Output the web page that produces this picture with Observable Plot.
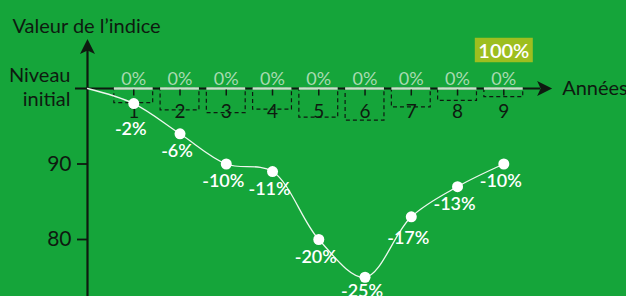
<!DOCTYPE html>
<html>
<head>
<meta charset="utf-8">
<script src="https://cdn.jsdelivr.net/npm/d3@7"></script>
<script src="https://cdn.jsdelivr.net/npm/@observablehq/plot@0.6"></script>
<style>
  html, body { margin: 0; padding: 0; background: #15a53a; }
  #chart { width: 626px; height: 296px; overflow: hidden; }
  #chart svg { overflow: visible; }
</style>
</head>
<body>
<div id="chart"></div>
<script>
// ---- data ----
const years = [1, 2, 3, 4, 5, 6, 7, 8, 9];
const indexChange = [-2, -6, -10, -11, -20, -25, -17, -13, -10]; // % vs initial level
const couponLabels = ["0%", "0%", "0%", "0%", "0%", "0%", "0%", "0%", "0%"];
const boxBottoms = [98.05, 97.1, 96.75, 97.2, 96.15, 95.75, 97.5, 98.35, 98.85];
const yTicks = [80, 90];
const initialLevel = 100;
const initialLabel = "Niveau\ninitial";
const yTitle = "Valeur de l’indice";
const xTitle = "Années";
const redemptionLabel = "100%";
const redemptionYear = 9;

// ---- build table ----
const rows = years.map((year, i) => ({
  year,
  change: indexChange[i],
  value: initialLevel + indexChange[i],
  coupon: couponLabels[i],
  boxBottom: boxBottoms[i],
  label: indexChange[i] + "%"
}));
const path = [{year: 0, value: initialLevel}, ...rows];

// ---- styling constants ----
const bg = "#15a53a";
const dark = "#0e1a10";
const light = "#c4e6c8";
const lightText = "#a8dbb1";
const half = 0.42;
const xAxisStart = -0.26, xAxisEnd = 10.045;
const yAxisBottom = 70, yAxisTop = 106.57;
const font = "Lato, sans-serif";
const textWeight = 400;

const arrowHead = {draw(ctx) { ctx.moveTo(0, 0); ctx.lineTo(7.5, 15); ctx.lineTo(0, 11.5); ctx.lineTo(-7.5, 15); ctx.closePath(); }};
const tickSym = {draw(ctx) { ctx.moveTo(0, 0); ctx.lineTo(0, 6); }};
const labelBox = {draw(ctx) { ctx.rect(-29, -12.2, 58, 24.4); }};

const labelDy = {1: 25.3, 6: 14, 7: 21.2};
const dyGroups = Array.from(new Set(rows.map(r => labelDy[r.year] ?? 17.5)));

const chart = Plot.plot({
  width: 626, height: 296,
  marginLeft: 87, marginTop: 0, marginRight: 0, marginBottom: 0,
  style: {background: bg, fontFamily: font, color: dark, overflow: "visible"},
  x: {domain: [0, 9], range: [87, 503.3], axis: null},
  y: {domain: [80, 100], range: [239, 88]},
  marks: [
    // dashed boxes below axis
    Plot.rect(rows, {x1: d => d.year - half, x2: d => d.year + half, y1: initialLevel, y2: "boxBottom",
      fill: "none", stroke: dark, strokeWidth: 1.2, strokeDasharray: "4,3"}),
    // year labels
    Plot.text(rows, {x: "year", y: () => initialLevel, text: d => String(d.year), dy: 23.2,
      fontSize: 19, fontWeight: textWeight, fill: dark}),
    // x axis line
    Plot.ruleY([initialLevel], {x1: xAxisStart, x2: xAxisEnd - 0.25, stroke: dark, strokeWidth: 2}),
    // light coupon segments on axis
    Plot.ruleY(rows, {y: () => initialLevel, x1: d => d.year - half, x2: d => d.year + half, stroke: light, strokeWidth: 2.5}),
    // x ticks
    Plot.dot(rows, {x: "year", y: () => initialLevel, symbol: tickSym, stroke: dark, strokeWidth: 1.5, fill: "none", dy: 1}),
    // coupon labels
    Plot.text(rows, {x: "year", y: () => initialLevel, text: "coupon", dy: -8.8, fontSize: 18, fontWeight: textWeight, fill: lightText}),
    // y axis line
    Plot.ruleX([0], {y1: yAxisBottom, y2: yAxisTop - 1.2, stroke: dark, strokeWidth: 2.2}),
    // arrow heads
    Plot.dot([{x: 0, y: yAxisTop}], {x: "x", y: "y", symbol: arrowHead, fill: dark, stroke: "none"}),
    Plot.dot([{x: xAxisEnd, y: initialLevel}], {x: "x", y: "y", symbol: arrowHead, rotate: 90, fill: dark, stroke: "none"}),
    // y axis ticks & labels
    Plot.axisY(yTicks, {anchor: "left", tickSize: 10, tickPadding: 6, fontSize: 21, fontWeight: textWeight, label: null, strokeWidth: 1.8}),
    // initial level label
    Plot.text([initialLevel], {x: () => 0, y: d => d, text: () => initialLabel, textAnchor: "end",
      dx: -17, dy: -2.1, lineHeight: 1.2, fontSize: 20, fontWeight: textWeight, fill: dark}),
    // titles
    Plot.text([yTitle], {x: () => 0, y: () => initialLevel, text: d => d, textAnchor: "start",
      dx: -75, dy: -62.1, fontSize: 20, fontWeight: textWeight, fill: dark}),
    Plot.text([xTitle], {x: () => xAxisEnd, y: () => initialLevel, text: d => d, textAnchor: "start",
      dx: 10, dy: 0, fontSize: 20, fontWeight: textWeight, fill: dark}),
    // index line
    Plot.line(path, {x: "year", y: "value", curve: "catmull-rom", stroke: "#eef8ef", strokeWidth: 1.3}),
    Plot.dot(rows, {x: "year", y: "value", r: 5.5, fill: "white", stroke: "none"}),
    // point labels
    ...dyGroups.map(g => Plot.text(rows.filter(r => (labelDy[r.year] ?? 17.5) === g), {
      x: "year", y: "value", text: "label", dy: g, dx: -3, fontSize: 18, fontWeight: 600, fill: "white"})),
    // redemption label
    Plot.dot([redemptionYear], {x: d => d, y: () => initialLevel, symbol: labelBox, fill: "#9dbe1f", stroke: "none", dy: -38.5}),
    Plot.text([redemptionLabel], {x: () => redemptionYear, y: () => initialLevel, text: d => d, dy: -37.1,
      fontSize: 20, fontWeight: 600, fill: "white"})
  ]
});
document.getElementById("chart").append(chart);
</script>
</body>
</html>
